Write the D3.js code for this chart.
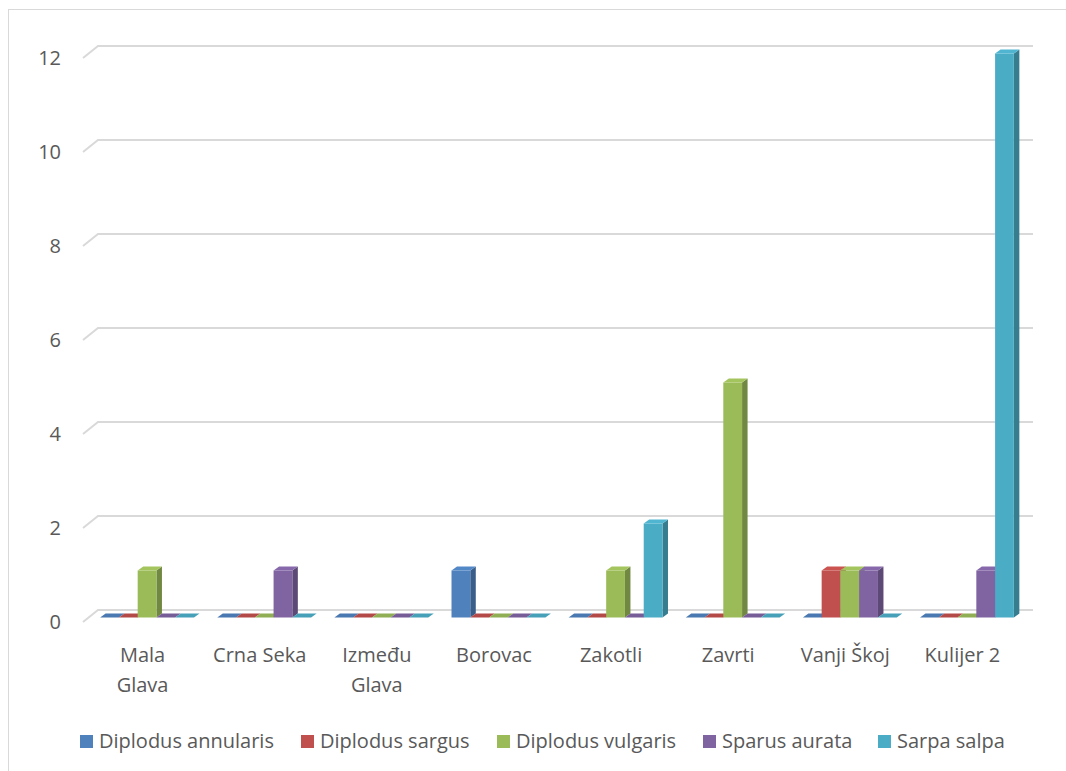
<!DOCTYPE html>
<html>
<head>
<meta charset="utf-8">
<script src="https://cdn.jsdelivr.net/npm/d3@7"></script>
<style>
  body { margin: 0; background: #fff; }
  text { font-family: "Open Sans", sans-serif; fill: #595959; }
</style>
</head>
<body>
<div class="chart"></div>
<script>
const WIDTH = 1066, HEIGHT = 771;

const categories = ["Mala Glava", "Crna Seka", "Između Glava", "Borovac", "Zakotli", "Zavrti", "Vanji Škoj", "Kulijer 2"];
const seriesNames = ["Diplodus annularis", "Diplodus sargus", "Diplodus vulgaris", "Sparus aurata", "Sarpa salpa"];
const annularis = [0, 0, 0, 1, 0, 0, 0, 0];
const sargus    = [0, 0, 0, 0, 0, 0, 1, 0];
const vulgaris  = [1, 0, 0, 0, 1, 5, 1, 0];
const aurata    = [0, 1, 0, 0, 0, 0, 1, 1];
const salpa     = [0, 0, 0, 0, 2, 0, 0, 12];
const yTicks = [0, 2, 4, 6, 8, 10, 12];

const seriesValues = [annularis, sargus, vulgaris, aurata, salpa];
const colors = ["#4F81BD", "#C0504D", "#9BBB59", "#8064A2", "#4BACC6"];

// floor depth (front plane -> back wall)
const DX = 15, DY = -12;
// bars sit a bit behind the front plane
const BX = 5.5, BY = -4.5, BD = 5.5, BDY = -4;

const x0 = d3.scaleBand().domain(categories).range([83, 1020]).paddingInner(0).paddingOuter(0);
const x1 = d3.scaleBand().domain(seriesNames).range([0, x0.bandwidth()]).paddingOuter(0.62).paddingInner(0);
const y = d3.scaleLinear().domain([0, 12]).range([622, 58]);

const svg = d3.select(".chart").append("svg")
  .attr("width", WIDTH).attr("height", HEIGHT);

// chart border
svg.append("rect")
  .attr("x", 8.5).attr("y", 9.5)
  .attr("width", WIDTH).attr("height", HEIGHT)
  .attr("fill", "none").attr("stroke", "#d9d9d9");

// gridlines (back wall + side diagonal)
const grid = svg.append("g");
yTicks.forEach(t => {
  const yy = y(t);
  grid.append("path")
    .attr("d", `M${83},${yy} L${83 + DX},${yy + DY} L${1033},${yy + DY}`)
    .attr("fill", "none")
    .attr("stroke", "#d9d9d9")
    .attr("stroke-width", 2);
});

// y axis labels
svg.append("g").selectAll("text")
  .data(yTicks).join("text")
  .attr("x", 61).attr("y", d => y(d))
  .attr("dy", "0.35em")
  .attr("text-anchor", "end")
  .style("font-size", "20px")
  .text(d => d);

// bars
const bars = svg.append("g");
categories.forEach((c, i) => {
  seriesNames.forEach((s, j) => {
    const v = seriesValues[j][i];
    const col = d3.color(colors[j]);
    const xl = x0(c) + x1(s) + BX;
    const w = x1.bandwidth();
    const yb = y(0) + BY, yt = y(v) + BY;
    const g = bars.append("g");
    // side
    g.append("path")
      .attr("d", `M${xl + w},${yt} L${xl + w + BD},${yt + BDY} L${xl + w + BD},${yb + BDY} L${xl + w},${yb}Z`)
      .attr("fill", col.darker(0.9));
    // front
    if (v > 0) {
      g.append("rect")
        .attr("x", xl).attr("y", yt)
        .attr("width", w).attr("height", yb - yt)
        .attr("fill", col);
    }
    // top
    g.append("path")
      .attr("d", `M${xl},${yt} L${xl + BD},${yt + BDY} L${xl + w + BD},${yt + BDY} L${xl + w},${yt}Z`)
      .attr("fill", v > 0 ? col.brighter(0.15) : col.darker(0.2));
  });
});

// category labels
const catLabels = {"Mala Glava": ["Mala", "Glava"], "Između Glava": ["Između", "Glava"]};
svg.append("g").selectAll("text")
  .data(categories).join("text")
  .attr("y", 662)
  .attr("text-anchor", "middle")
  .style("font-size", "20px")
  .each(function(d) {
    const lines = catLabels[d] || [d];
    d3.select(this).selectAll("tspan").data(lines).join("tspan")
      .attr("x", x0(d) + x0.bandwidth() / 2 + 1)
      .attr("dy", (l, k) => k === 0 ? 0 : 30)
      .text(l => l);
  });

// legend
const legendX = [80, 301, 497, 703, 878];
const legend = svg.append("g");
seriesNames.forEach((s, j) => {
  legend.append("rect")
    .attr("x", legendX[j]).attr("y", 735)
    .attr("width", 13).attr("height", 13)
    .attr("fill", colors[j]);
  legend.append("text")
    .attr("x", legendX[j] + 19).attr("y", 741)
    .attr("dy", "0.35em")
    .style("font-size", "20px")
    .text(s);
});
</script>
</body>
</html>
